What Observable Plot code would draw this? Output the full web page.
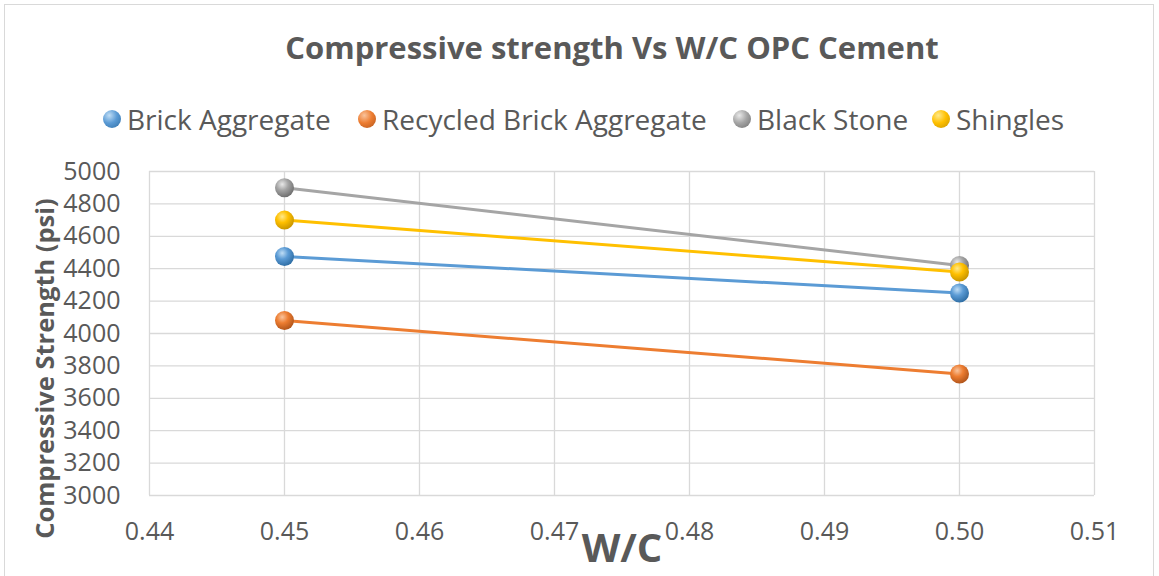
<!DOCTYPE html>
<html>
<head>
<meta charset="utf-8">
<script src="https://cdn.jsdelivr.net/npm/d3@7"></script>
<script src="https://cdn.jsdelivr.net/npm/@observablehq/plot@0.6"></script>
<style>
  html, body { margin: 0; padding: 0; background: #fff; }
  body { width: 1159px; height: 576px; position: relative; overflow: hidden; font-family: "Open Sans", sans-serif; color: #595959; }
  #frame { position: absolute; left: 4px; top: 4px; width: 1150px; height: 580px; border: 1px solid #D9D9D9; box-sizing: border-box; }
  #chart { position: absolute; left: 0; top: 0; }
  #title { position: absolute; top: 27px; left: 612px; transform: translateX(-50%); white-space: nowrap; font-size: 31px; font-weight: 700; line-height: 40px; z-index: 2; }
  .leg { position: absolute; top: 99px; white-space: nowrap; font-size: 28px; line-height: 40px; display: flex; align-items: center; z-index: 2; }
  .sw { width: 18px; height: 18px; border-radius: 50%; margin-right: 6px; }
</style>
</head>
<body>
<div id="frame"></div>
<div id="chart"></div>
<div id="title">Compressive strength Vs W/C OPC Cement</div>
<div id="legend"></div>
<script>
const wc = [0.45, 0.50];
const brickAggregate = [4475, 4250];
const recycledBrickAggregate = [4080, 3750];
const blackStone = [4900, 4420];
const shingles = [4700, 4380];
const seriesNames = ["Brick Aggregate", "Recycled Brick Aggregate", "Black Stone", "Shingles"];
const seriesColors = ["#5B9BD5", "#ED7D31", "#A5A5A5", "#FFC000"];
const seriesDark = ["#2E6DA4", "#B0541A", "#6E6E6E", "#C79400"];
const seriesLight = ["#BFDDF5", "#F9C39C", "#E8E8E8", "#FFE98A"];
const xTicks = [0.44, 0.45, 0.46, 0.47, 0.48, 0.49, 0.50, 0.51];
const yTicks = [3000, 3200, 3400, 3600, 3800, 4000, 4200, 4400, 4600, 4800, 5000];
const legendLeft = [103, 358, 733, 932];

const seriesValues = [brickAggregate, recycledBrickAggregate, blackStone, shingles];
const data = [];
seriesNames.forEach((s, i) => wc.forEach((x, j) => data.push({series: s, idx: i, wc: x, psi: seriesValues[i][j]})));

// legend
const leg = document.getElementById("legend");
seriesNames.forEach((s, i) => {
  const d = document.createElement("div");
  d.className = "leg";
  d.style.left = legendLeft[i] + "px";
  const sw = document.createElement("div");
  sw.className = "sw";
  sw.style.background = `radial-gradient(circle at 35% 30%, ${seriesLight[i]} 0%, ${seriesColors[i]} 45%, ${seriesDark[i]} 100%)`;
  d.appendChild(sw);
  const t = document.createElement("span");
  t.textContent = s;
  d.appendChild(t);
  leg.appendChild(d);
});

const fmtX = d => d.toFixed(2);
const fmtY = d => String(d);

const plot = Plot.plot({
  width: 1159,
  height: 576,
  marginLeft: 149,
  marginRight: 65,
  marginTop: 171,
  marginBottom: 81,
  style: {fontFamily: "Open Sans, sans-serif", color: "#595959", background: "transparent", overflow: "visible"},
  x: {domain: [0.44, 0.51], ticks: xTicks, tickFormat: fmtX, label: null},
  y: {domain: [3000, 5000], ticks: yTicks, tickFormat: fmtY, label: null},
  marks: [
    Plot.gridX(xTicks, {stroke: "#D9D9D9", strokeOpacity: 1, strokeWidth: 1.3}),
    Plot.gridY(yTicks, {stroke: "#D9D9D9", strokeOpacity: 1, strokeWidth: 1.3}),
    Plot.axisX(xTicks, {tickSize: 0, tickPadding: 0, dy: 27, fontSize: 25, tickFormat: fmtX, fill: "#595959", label: null}),
    Plot.axisY(yTicks, {tickSize: 0, tickPadding: 0, dx: -29, fontSize: 25, tickFormat: fmtY, fill: "#595959", label: null}),
    Plot.line(data, {x: "wc", y: "psi", z: "series", stroke: d => seriesColors[d.idx], strokeWidth: 3}),
    Plot.dot(data, {x: "wc", y: "psi", r: 9.5, fill: d => `url(#g${d.idx})`, stroke: "none"}),
    Plot.text(["W/C"], {x: 0.475, frameAnchor: "bottom", dy: 66, text: d => d, fontSize: 40, fontWeight: 700, fill: "#595959", lineAnchor: "bottom"}),
    Plot.text(["Compressive Strength (psi)"], {frameAnchor: "left", textAnchor: "middle", dx: -104, dy: 35, rotate: -90, text: d => d, fontSize: 25.5, fontWeight: 700, fill: "#595959"})
  ]
});

// sphere gradients
const ns = "http://www.w3.org/2000/svg";
const defs = document.createElementNS(ns, "defs");
seriesColors.forEach((c, i) => {
  const g = document.createElementNS(ns, "radialGradient");
  g.setAttribute("id", "g" + i);
  g.setAttribute("cx", "0.38"); g.setAttribute("cy", "0.32"); g.setAttribute("r", "0.7");
  [[0, seriesLight[i]], [0.45, c], [1, seriesDark[i]]].forEach(([o, col]) => {
    const st = document.createElementNS(ns, "stop");
    st.setAttribute("offset", o);
    st.setAttribute("stop-color", col);
    g.appendChild(st);
  });
  defs.appendChild(g);
});
plot.insertBefore(defs, plot.firstChild);
document.getElementById("chart").appendChild(plot);
</script>
</body>
</html>
